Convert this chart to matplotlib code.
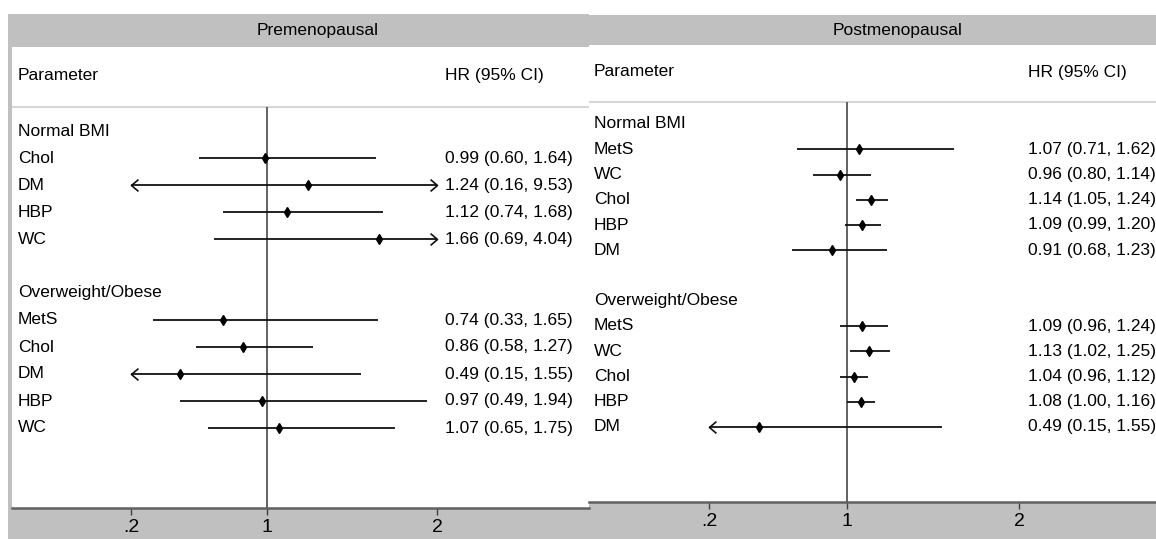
import numpy as np
import matplotlib
matplotlib.use("Agg")
import matplotlib.pyplot as plt
from matplotlib.patches import Rectangle
from matplotlib.path import Path
from matplotlib.transforms import blended_transform_factory

plt.rcParams['font.family'] = ['Liberation Sans', 'DejaVu Sans']

# Data
nan = np.nan
pre_labels = ['Normal BMI', 'Chol', 'DM', 'HBP', 'WC', '',
              'Overweight/Obese', 'MetS', 'Chol', 'DM', 'HBP', 'WC']
pre_hr = [nan, 0.99, 1.24, 1.12, 1.66, nan, nan, 0.74, 0.86, 0.49, 0.97, 1.07]
pre_lo = [nan, 0.60, 0.16, 0.74, 0.69, nan, nan, 0.33, 0.58, 0.15, 0.49, 0.65]
pre_hi = [nan, 1.64, 9.53, 1.68, 4.04, nan, nan, 1.65, 1.27, 1.55, 1.94, 1.75]

post_labels = ['Normal BMI', 'MetS', 'WC', 'Chol', 'HBP', 'DM', '',
               'Overweight/Obese', 'MetS', 'WC', 'Chol', 'HBP', 'DM']
post_hr = [nan, 1.07, 0.96, 1.14, 1.09, 0.91, nan, nan, 1.09, 1.13, 1.04, 1.08, 0.49]
post_lo = [nan, 0.71, 0.80, 1.05, 0.99, 0.68, nan, nan, 0.96, 1.02, 0.96, 1.00, 0.15]
post_hi = [nan, 1.62, 1.14, 1.24, 1.20, 1.23, nan, nan, 1.24, 1.25, 1.12, 1.16, 1.55]

x_ticks = [0.2, 1, 2]
x_ticklabels = ['.2', '1', '2']
clip_lo, clip_hi = 0.2, 2.0

W, H = 1156, 539
GRAY = '#c0c0c0'
FS = 12.5

fig = plt.figure(figsize=(W / 100, H / 100), dpi=100)
fig.patch.set_facecolor('white')


def fx(px):
    return px / W


def fy(py):
    return 1 - py / H


def gray_box(x0, y0, x1, y1):
    fig.patches.append(Rectangle((fx(x0), fy(y1)), fx(x1) - fx(x0), fy(y0) - fy(y1),
                                 transform=fig.transFigure, facecolor=GRAY,
                                 edgecolor='none', zorder=-10))


chevron = Path([(1, 0.85), (0, 0), (1, -0.85)], [Path.MOVETO, Path.LINETO, Path.LINETO])
chevron_r = Path([(-1, 0.85), (0, 0), (-1, -0.85)], [Path.MOVETO, Path.LINETO, Path.LINETO])


def draw_panel(title, labels, hr, lo, hi, g):
    # backgrounds
    gray_box(g['bg_x0'], g['bg_y0'], g['x1'], H)
    gray_box(g['hd_x0'], g['bg_y0'], g['x1'], g['white_y0'])
    fig.text(fx(g['title_x']), fy((g['bg_y0'] + g['white_y0']) / 2), title,
             ha='center', va='center', fontsize=FS)

    ax = fig.add_axes([fx(g['x0']), fy(g['axis_y']), fx(g['x1']) - fx(g['x0']),
                       fy(g['white_y0']) - fy(g['axis_y'])])
    ax.set_facecolor('white')
    ppu = g['ppu']
    ax.set_xlim(1 + (g['x0'] - g['one_px']) / ppu, 1 + (g['x1'] - g['one_px']) / ppu)
    step = g['step']
    to_row = lambda py: (py - g['row0']) / step
    ax.set_ylim(to_row(g['axis_y']), to_row(g['white_y0']))

    for s in ['top', 'left', 'right']:
        ax.spines[s].set_visible(False)
    ax.spines['bottom'].set_color('#606060')
    ax.spines['bottom'].set_linewidth(1.8)
    ax.set_yticks([])
    ax.set_xticks(x_ticks)
    ax.set_xticklabels(x_ticklabels, fontsize=14)
    ax.tick_params(axis='x', direction='out', length=5, width=1, color='#404040', pad=3)

    sep = to_row(g['sep_y'])
    ax.axhline(sep, color='#d6d6d6', lw=1.5, zorder=1)
    ax.vlines(1, sep, to_row(g['axis_y']), color='#555555', lw=1.3, zorder=2)

    bt = blended_transform_factory(fig.transFigure, ax.transData)
    hdr = to_row(g['hdr_y'])
    ax.text(fx(g['lab_x']), hdr, 'Parameter', transform=bt, ha='left', va='center', fontsize=FS)
    ax.text(fx(g['val_x']), hdr, 'HR (95% CI)', transform=bt, ha='left', va='center', fontsize=FS)

    for i, lab in enumerate(labels):
        ax.text(fx(g['lab_x']), i, lab, transform=bt, ha='left', va='center', fontsize=FS)
        if np.isnan(hr[i]):
            continue
        a, b = max(lo[i], clip_lo), min(hi[i], clip_hi)
        ax.plot([a, b], [i, i], color='#111111', lw=1.3, zorder=3, solid_capstyle='butt')
        ax.plot(hr[i], i, marker='d', ms=5, color='black', zorder=4)
        if lo[i] < clip_lo:
            ax.plot(a, i, marker=chevron, ms=10, mfc='none', mec='#111111', mew=1.2, zorder=3)
        if hi[i] > clip_hi:
            ax.plot(b, i, marker=chevron_r, ms=10, mfc='none', mec='#111111', mew=1.2, zorder=3)
        ax.text(fx(g['val_x']), i, f'{hr[i]:.2f} ({lo[i]:.2f}, {hi[i]:.2f})',
                transform=bt, ha='left', va='center', fontsize=FS)
    return ax


left_geom = dict(bg_x0=8, hd_x0=8, bg_y0=14, white_y0=47, x0=12, x1=589, axis_y=508,
                 title_x=318, ppu=170, one_px=267, row0=131, step=27, sep_y=107,
                 hdr_y=75, lab_x=18, val_x=445)
right_geom = dict(bg_x0=589, hd_x0=590, bg_y0=15, white_y0=45, x0=589, x1=1156, axis_y=502,
                  title_x=898, ppu=172, one_px=847, row0=124, step=25.25, sep_y=102,
                  hdr_y=72, lab_x=594, val_x=1028)

draw_panel('Premenopausal', pre_labels, pre_hr, pre_lo, pre_hi, left_geom)
draw_panel('Postmenopausal', post_labels, post_hr, post_lo, post_hi, right_geom)

fig.savefig('out.png', dpi=100)
